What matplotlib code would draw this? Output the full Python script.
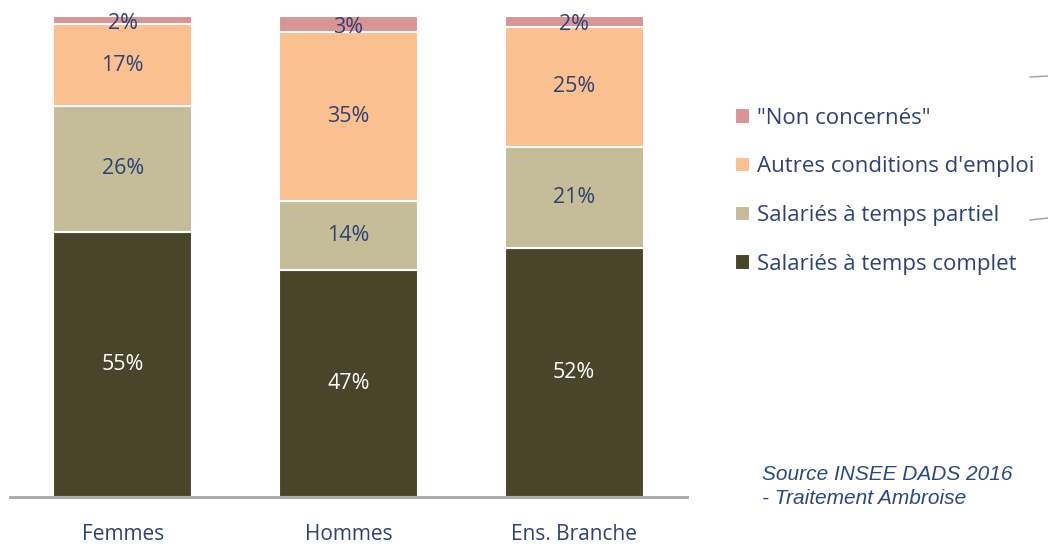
import numpy as np
import matplotlib.pyplot as plt
from matplotlib.lines import Line2D

plt.rcParams['font.family'] = ['Open Sans', 'DejaVu Sans']

categories = ["Femmes", "Hommes", "Ens. Branche"]
series = ["Salariés à temps complet", "Salariés à temps partiel",
          "Autres conditions d'emploi", '"Non concernés"']
complet = [55.1, 47.2, 51.8]
partiel = [26.2, 14.4, 21.0]
autres = [17.0, 35.1, 24.9]
non_concernes = [1.7, 3.3, 2.3]
colors = ["#4a452a", "#c4bd97", "#fac090", "#d99594"]

text_col = "#2f4275"

fig = plt.figure(figsize=(10.48, 5.44), dpi=100)
ax = fig.add_axes([0.0095, 0.0864, 0.646, 0.8842])

x = np.arange(len(categories))
bottom = np.zeros(len(categories))
bars = []
for vals, col, name in zip([complet, partiel, autres, non_concernes], colors, series):
    b = ax.bar(x, vals, 0.615, bottom=bottom, color=col, edgecolor="white",
               linewidth=1.5, label=name)
    bars.append(b)
    for xi, v, bt in zip(x, vals, bottom):
        tc = "white" if col == colors[0] else text_col
        # the small top labels sit a bit below the segment centre
        yy = bt + v / 2 if v > 4 else bt + v / 2 - 0.7
        ax.text(xi, yy, "{:.0f}%".format(v), ha="center", va="center",
                fontsize=15.5, color=tc)
    bottom += np.array(vals)

ax.set_xlim(-0.5, 2.5)
ax.set_ylim(0, 100)
for s in ["top", "right", "left"]:
    ax.spines[s].set_visible(False)
ax.spines["bottom"].set_color("#a6a6a6")
ax.spines["bottom"].set_linewidth(2)
ax.set_yticks([])
ax.set_xticks(x)
ax.set_xticklabels(categories, fontsize=15, color=text_col)
ax.tick_params(axis="x", length=0, pad=19.5)

handles = bars[::-1]
fig.legend(handles, [h.get_label() for h in handles], loc="upper left",
           bbox_to_anchor=(0.682, 0.839), frameon=False, fontsize=16,
           labelcolor=text_col, handlelength=0.7, handleheight=0.7,
           handletextpad=0.3, labelspacing=1.25)

fig.text(0.727, 0.1057, "Source INSEE DADS 2016\n- Traitement Ambroise",
         fontsize=15, style="italic", color="#2a4a80", ha="left", va="center",
         family=["Liberation Sans", "DejaVu Sans"], linespacing=1.35)

# small grey strokes at the right edge of the original picture
fig.add_artist(Line2D([1030 / 1048, 1.0], [1 - 77 / 544, 1 - 76 / 544],
                      color="#a0a0a0", lw=1))
fig.add_artist(Line2D([1030 / 1048, 1.0], [1 - 220 / 544, 1 - 218 / 544],
                      color="#a0a0a0", lw=1))

fig.savefig("out.png")
